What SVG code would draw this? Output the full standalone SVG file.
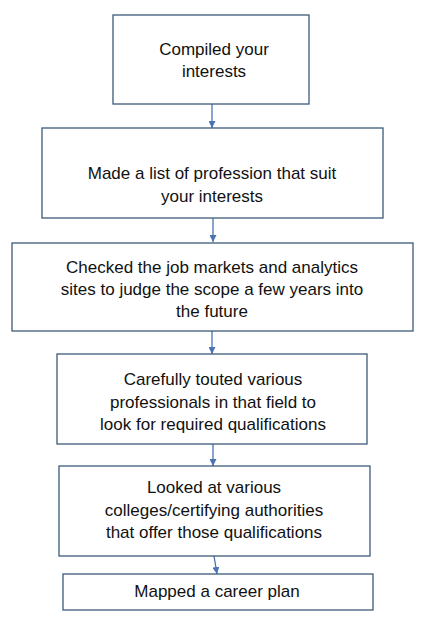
<svg xmlns="http://www.w3.org/2000/svg" width="430" height="622" viewBox="0 0 430 622">
<defs>
<style>
.box{fill:#fff;stroke:#3c5a78;stroke-width:1.3}
.t{font-family:"Liberation Sans",Arial,sans-serif;font-size:17px;fill:#111;text-anchor:middle}
.c{stroke:#4a73b5;stroke-width:1.3;fill:none}
</style>
<marker id="ah" viewBox="0 0 10 10" refX="10" refY="5" markerWidth="7" markerHeight="7" markerUnits="userSpaceOnUse" orient="auto">
<path d="M0,0 L10,5 L0,10 z" fill="#4a73b5"/>
</marker>
</defs>
<rect width="430" height="622" fill="#fff"/>
<g id="connectors">
<line class="c" x1="212" y1="104" x2="212" y2="128" marker-end="url(#ah)"/>
<line class="c" x1="213" y1="218" x2="213" y2="242" marker-end="url(#ah)"/>
<line class="c" x1="212" y1="331" x2="212" y2="354" marker-end="url(#ah)"/>
<line class="c" x1="213" y1="444" x2="213" y2="466" marker-end="url(#ah)"/>
<line class="c" x1="214" y1="556" x2="217" y2="574" marker-end="url(#ah)"/>
</g>
<g id="n1"><rect class="box" x="113" y="15" width="196" height="89"/>
<text class="t" x="214" y="55">Compiled your</text><text class="t" x="214" y="77">interests</text></g>
<g id="n2"><rect class="box" x="42" y="128" width="341" height="90"/>
<text class="t" x="212" y="179">Made a list of profession that suit</text><text class="t" x="212" y="202">your interests</text></g>
<g id="n3"><rect class="box" x="12" y="243" width="401" height="88"/>
<text class="t" x="212" y="273">Checked the job markets and analytics</text><text class="t" x="212" y="295">sites to judge the scope a few years into</text><text class="t" x="212" y="317">the future</text></g>
<g id="n4"><rect class="box" x="57" y="354" width="310" height="90"/>
<text class="t" x="213" y="385">Carefully touted various</text><text class="t" x="213" y="408">professionals in that field to</text><text class="t" x="213" y="430">look for required qualifications</text></g>
<g id="n5"><rect class="box" x="59" y="466" width="311" height="90"/>
<text class="t" x="214" y="493">Looked at various</text><text class="t" x="214" y="516">colleges/certifying authorities</text><text class="t" x="214" y="538">that offer those qualifications</text></g>
<g id="n6"><rect class="box" x="63" y="574" width="310" height="36"/>
<text class="t" x="217" y="597">Mapped a career plan</text></g>
</svg>
